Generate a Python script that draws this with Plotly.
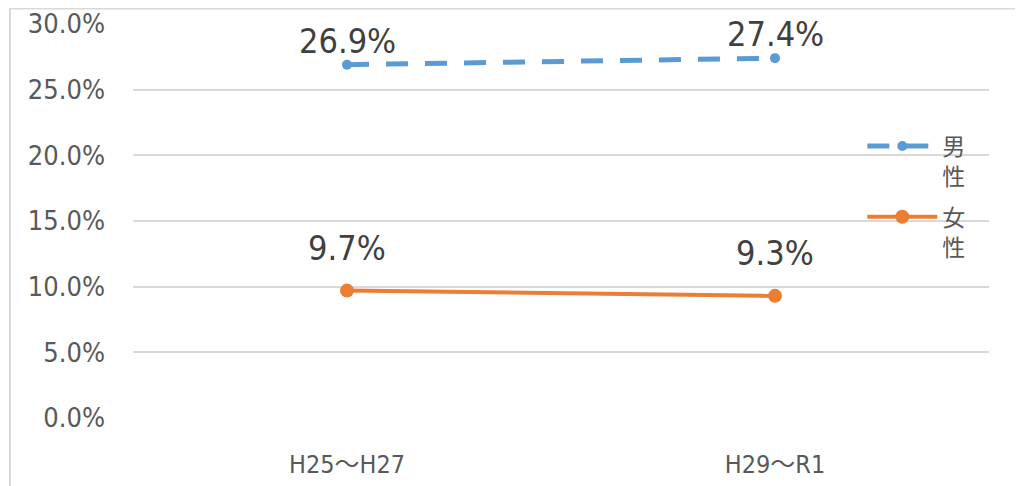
import plotly.graph_objects as go

categories = ["H25～H27", "H29～R1"]
male = [26.9, 27.4]
female = [9.7, 9.3]
male_labels = ["26.9%", "27.4%"]
female_labels = ["9.7%", "9.3%"]
y_ticks = [0, 5, 10, 15, 20, 25, 30]
y_tick_labels = ["0.0%", "5.0%", "10.0%", "15.0%", "20.0%", "25.0%", "30.0%"]

FONT = "DejaVu Sans Condensed, DejaVu Sans, Verdana, Noto Sans CJK JP, sans-serif"
BLUE = "#5B9BD5"
ORANGE = "#ED7D31"

fig = go.Figure()
fig.add_trace(go.Scatter(
    x=categories, y=male, name="男<br>性", mode="lines+markers", legendgroup="m",
    line=dict(color=BLUE, width=5, dash="22px,17px"),
    marker=dict(color=BLUE, size=10, symbol="circle"),
))
fig.add_trace(go.Scatter(
    x=categories, y=female, name="女<br>性", mode="lines+markers", legendgroup="f",
    line=dict(color=ORANGE, width=4),
    marker=dict(color=ORANGE, size=14, symbol="circle"),
))

for xs, ys, labs, shift in [(categories, male, male_labels, 24), (categories, female, female_labels, 43)]:
    for xv, yv, lab in zip(xs, ys, labs):
        fig.add_annotation(x=xv, y=yv, text=lab, showarrow=False, yshift=shift,
                           font=dict(family=FONT, size=34, color="#404040"))

# chart border (left and top)
fig.add_shape(type="line", xref="paper", yref="paper", x0=-0.1437, x1=-0.1437, y0=-0.2, y1=1.04,
              line=dict(color="#D9D9D9", width=2))
fig.add_shape(type="line", xref="paper", yref="paper", x0=-0.1437, x1=1.1, y0=1.0393, y1=1.0393,
              line=dict(color="#D9D9D9", width=2))

fig.update_layout(
    width=1015, height=478,
    margin=dict(l=125, r=34, t=16, b=68, autoexpand=False),
    paper_bgcolor="white", plot_bgcolor="white",
    font=dict(family=FONT, color="#595959"),
    showlegend=True,
    legend=dict(x=0.852, y=0.745, xanchor="left", yanchor="top", bgcolor="rgba(0,0,0,0)",
                font=dict(size=23, color="#595959"), itemwidth=70, tracegroupgap=8,
                valign="top"),
    xaxis=dict(type="category", range=[-0.5, 1.5], showgrid=False, showline=False, zeroline=False,
               tickfont=dict(size=25, color="#595959"), ticks="", ticklen=0,
               ticklabelstandoff=29),
    yaxis=dict(range=[0, 30], tickvals=y_ticks, ticktext=y_tick_labels, showgrid=True,
               gridcolor="#D9D9D9", gridwidth=2, zeroline=False, showline=False,
               tickfont=dict(size=27, color="#595959"), ticks="", ticklen=0,
               ticklabelstandoff=27),
)
fig.write_html("out.html")
